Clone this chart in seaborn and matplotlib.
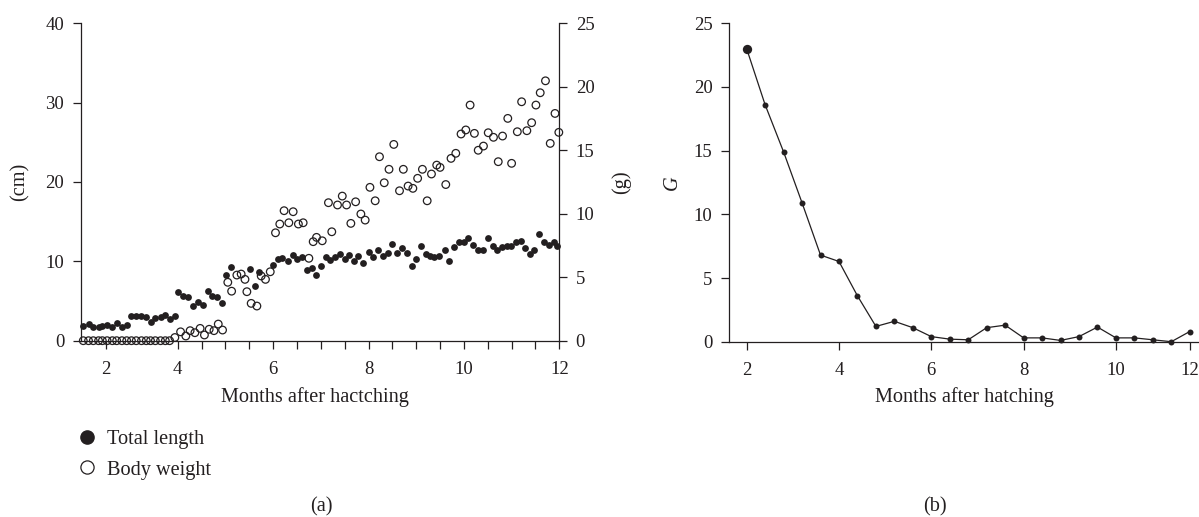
import matplotlib
matplotlib.use("Agg")
import matplotlib.pyplot as plt
from matplotlib.lines import Line2D
import seaborn as sns

# ---------------------------------------------
# data
# ---------------------------------------------
# (a) total length, cm (filled circles)
months_len = [2.02, 2.13, 2.23, 2.34, 2.42, 2.52, 2.63, 2.72, 2.83, 2.93,
              3.03, 3.13, 3.24, 3.34, 3.43, 3.53, 3.64, 3.74, 3.83, 3.94,
              4.01, 4.12, 4.22, 4.31, 4.42, 4.52, 4.63, 4.72, 4.82, 4.92,
              5.01, 5.12, 5.52, 5.61, 5.71,
              6.00, 6.10, 6.19, 6.31, 6.41, 6.50, 6.60, 6.70, 6.81, 6.90,
              7.00, 7.10, 7.19, 7.30, 7.40, 7.50, 7.60, 7.70, 7.79, 7.89,
              8.00, 8.10, 8.19, 8.30, 8.40, 8.50, 8.59, 8.70, 8.80, 8.92,
              8.99, 9.10, 9.20, 9.29, 9.38, 9.48, 9.60, 9.69, 9.80, 9.90,
              10.00, 10.09, 10.20, 10.29, 10.39, 10.50, 10.60, 10.69, 10.79, 10.90,
              10.99, 11.09, 11.20, 11.28, 11.39, 11.48, 11.58, 11.67, 11.78, 11.88, 11.95]
total_length = [1.85, 2.1, 1.77, 1.77, 1.85, 2.0, 1.77, 2.27, 1.77, 2.0,
                3.1, 3.1, 3.1, 3.0, 2.4, 2.8, 2.95, 3.25, 2.7, 3.1,
                6.2, 5.6, 5.5, 4.4, 4.9, 4.5, 6.3, 5.6, 5.5, 4.75,
                8.3, 9.3, 9.0, 6.9, 8.7,
                9.5, 10.3, 10.4, 10.0, 10.75, 10.3, 10.5, 8.95, 9.1, 8.3,
                9.45, 10.6, 10.2, 10.5, 10.95, 10.3, 10.75, 10.0, 10.7, 9.8,
                11.2, 10.6, 11.4, 10.7, 11.0, 12.2, 11.1, 11.65, 11.1, 9.4,
                10.3, 11.9, 10.9, 10.7, 10.5, 10.7, 11.4, 10.0, 11.85, 12.5,
                12.5, 12.9, 12.1, 11.4, 11.4, 13.0, 11.9, 11.4, 11.85, 11.9,
                11.9, 12.5, 12.6, 11.65, 10.9, 11.4, 13.5, 12.5, 12.1, 12.5, 11.9]

# (a) body weight, g (open circles)
months_wt = [2.02, 2.13, 2.23, 2.34, 2.42, 2.52, 2.63, 2.72, 2.83, 2.93,
             3.03, 3.13, 3.24, 3.34, 3.43, 3.53, 3.64, 3.74, 3.83, 3.94,
             4.06, 4.17, 4.26, 4.36, 4.47, 4.56, 4.66, 4.76, 4.85, 4.94,
             5.05, 5.13, 5.24, 5.33, 5.41, 5.45, 5.54, 5.66, 5.75, 5.84, 5.94,
             6.05, 6.14, 6.23, 6.33, 6.42, 6.53, 6.63, 6.75, 6.84, 6.91,
             7.03, 7.16, 7.23, 7.35, 7.45, 7.54, 7.63, 7.73, 7.84, 7.93,
             8.03, 8.14, 8.23, 8.33, 8.43, 8.53, 8.65, 8.73, 8.83, 8.93,
             9.03, 9.13, 9.23, 9.32, 9.43, 9.50, 9.62, 9.73, 9.83, 9.94,
             10.04, 10.13, 10.22, 10.30, 10.41, 10.51, 10.62, 10.72, 10.81, 10.92,
             11.00, 11.12, 11.21, 11.32, 11.42, 11.51, 11.60, 11.71, 11.81, 11.91, 11.99]
body_weight = [0, 0, 0, 0, 0, 0, 0, 0, 0, 0,
               0, 0, 0, 0, 0, 0, 0, 0, 0, 0.25,
               0.7, 0.37, 0.79, 0.63, 0.97, 0.45, 0.9, 0.79, 1.31, 0.84,
               4.6, 3.9, 5.17, 5.25, 4.83, 3.86, 2.94, 2.73, 5.1, 4.83, 5.43,
               8.5, 9.19, 10.24, 9.29, 10.16, 9.19, 9.29, 6.49, 7.8, 8.14,
               7.87, 10.87, 8.58, 10.69, 11.39, 10.69, 9.24, 10.94, 9.98, 9.5,
               12.08, 11.02, 14.49, 12.44, 13.5, 15.46, 11.81, 13.5, 12.18, 12.0,
               12.79, 13.5, 11.02, 13.13, 13.83, 13.65, 12.3, 14.36, 14.76, 16.28,
               16.6, 18.56, 16.33, 15.0, 15.33, 16.38, 16.02, 14.1, 16.12, 17.51,
               13.97, 16.46, 18.82, 16.54, 17.17, 18.56, 19.53, 20.47, 15.54, 17.9, 16.41]

# (b) G
months_g = [2.0, 2.4, 2.8, 3.2, 3.6, 4.0, 4.4, 4.8, 5.2, 5.6, 6.0, 6.4, 6.8,
            7.2, 7.6, 8.0, 8.4, 8.8, 9.2, 9.6, 10.0, 10.4, 10.8, 11.2, 11.6]
g_values = [23.0, 18.6, 14.9, 10.9, 6.8, 6.3, 3.6, 1.2, 1.6, 1.1, 0.4, 0.2, 0.15,
            1.1, 1.3, 0.3, 0.3, 0.1, 0.4, 1.15, 0.3, 0.3, 0.15, 0.0, 0.8]

# tick positions / labels as printed on the original axes
ticks_a = [2.5, 4, 6, 8, 10, 12]
minor_a = [4.5, 5, 5.5, 6.5, 7, 7.5, 8.5, 9, 9.5, 10.5, 11, 11.5]
tick_labels_a = ['2', '4', '6', '8', '10', '12']
ticks_b = [2, 4, 6, 8, 10, 11.6]
tick_labels_b = ['2', '4', '6', '8', '10', '12']

# ---------------------------------------------
# style
# ---------------------------------------------
sns.set_style("ticks")
plt.rcParams['font.family'] = ['Liberation Serif', 'DejaVu Serif']
plt.rcParams['font.size'] = 13.5
INK = '#231f20'
FS = 13.5      # tick labels
LFS = 14.6     # axis labels, legend

W, H = 1199, 517
fig = plt.figure(figsize=(W / 100, H / 100), dpi=100)


def box(l, t, r, b):
    return [l / W, 1 - b / H, (r - l) / W, (b - t) / H]


def style_ticks(a, axis='both'):
    a.tick_params(axis=axis, which='both', direction='out', length=5.8, width=0.9,
                  color=INK, labelcolor=INK, labelsize=FS)


# =============================================
# (a) total length + body weight
# =============================================
ax = fig.add_axes(box(80.7, 23.3, 559.3, 340.7))
sns.scatterplot(x=months_len, y=total_length, ax=ax, color=INK, s=24,
                linewidth=0, zorder=3, clip_on=False)
ax.set_xlim(1.966, 12)
ax.set_ylim(0, 40)
ax.set_yticks([0, 10, 20, 30, 40])
ax.set_xticks(ticks_a, tick_labels_a)
ax.set_xticks(minor_a, minor=True)
style_ticks(ax)
ax.tick_params(axis='y', pad=6)
ax.tick_params(axis='x', pad=9)
for s in ['top', 'right']:
    ax.spines[s].set_visible(False)
for s in ['left', 'bottom']:
    ax.spines[s].set_linewidth(0.9)
    ax.spines[s].set_color(INK)
ax.set_xlabel('Months after hactching', fontsize=LFS, color=INK)
ax.xaxis.set_label_coords(0.49, -0.145)
ax.set_ylabel('(cm)', fontsize=LFS, color=INK, va='center')
ax.yaxis.set_label_coords(-0.127, 0.5)

ax2 = ax.twinx()
sns.scatterplot(x=months_wt, y=body_weight, ax=ax2, marker='o', facecolors='none',
                edgecolor=INK, s=30, linewidth=0.9, clip_on=False)
ax2.set_ylim(0, 25)
ax2.set_yticks([0, 5, 10, 15, 20, 25])
style_ticks(ax2, 'y')
ax2.tick_params(axis='y', pad=6)
for s in ['top', 'left', 'bottom']:
    ax2.spines[s].set_visible(False)
ax2.spines['right'].set_linewidth(0.9)
ax2.spines['right'].set_color(INK)
ax2.set_ylabel('(g)', fontsize=LFS, color=INK, va='center')
ax2.yaxis.set_label_coords(1.130, 0.5)

handles = [Line2D([], [], marker='o', ls='', color=INK, ms=9.5),
           Line2D([], [], marker='o', ls='', mfc='none', mec=INK, mew=0.9, ms=9.5)]
fig.legend(handles, ['Total length', 'Body weight'], loc='upper left',
           bbox_to_anchor=(76.5 / W, 1 - 430 / H), frameon=False, fontsize=LFS,
           borderpad=0, borderaxespad=0, handlelength=1.0, handletextpad=0.5,
           labelspacing=0.55, labelcolor=INK)

fig.text(321 / W, 1 - 507 / H, '(a)', ha='center', va='center', fontsize=LFS, color=INK)

# =============================================
# (b) G
# =============================================
bx = fig.add_axes(box(729, 23.3, 1199, 341.7))
sns.lineplot(x=months_g, y=g_values, ax=bx, color=INK, lw=0.9, marker='o',
             markersize=4.3, markeredgewidth=0, clip_on=False)
sns.scatterplot(x=months_g[:1], y=g_values[:1], ax=bx, color=INK, s=45,
                linewidth=0, zorder=4)
bx.set_xlim(1.617, 11.8)
bx.set_ylim(0, 25)
bx.set_yticks([0, 5, 10, 15, 20, 25])
bx.set_xticks(ticks_b, tick_labels_b)
style_ticks(bx)
bx.tick_params(axis='y', pad=6)
bx.tick_params(axis='x', pad=9)
for s in ['top', 'right']:
    bx.spines[s].set_visible(False)
for s in ['left', 'bottom']:
    bx.spines[s].set_linewidth(0.9)
    bx.spines[s].set_color(INK)
bx.set_xlabel('Months after hatching', fontsize=LFS, color=INK)
bx.xaxis.set_label_coords(0.5, -0.143)
bx.set_ylabel('G', fontsize=LFS, color=INK, style='italic', va='center')
bx.yaxis.set_label_coords(-0.121, 0.5)

fig.text(935 / W, 1 - 507 / H, '(b)', ha='center', va='center', fontsize=LFS, color=INK)

fig.savefig('out.png', dpi=100)
